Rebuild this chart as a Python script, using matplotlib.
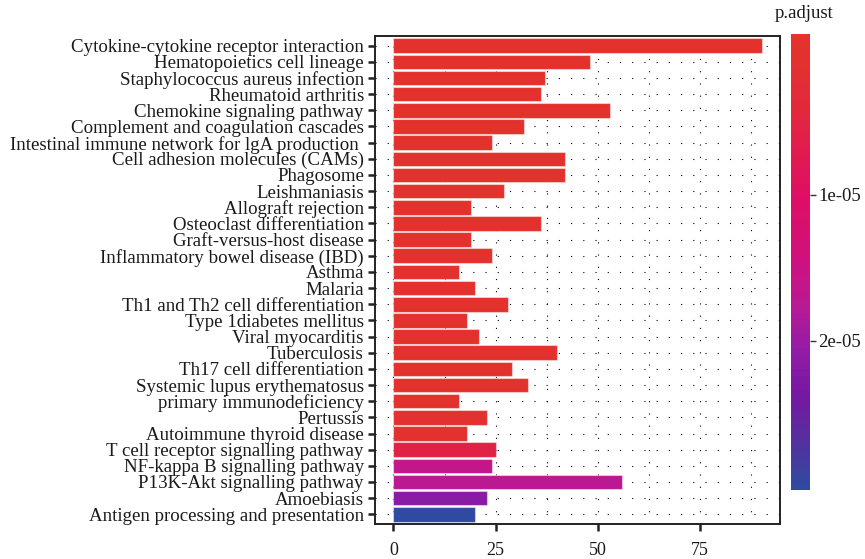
import matplotlib
matplotlib.use("Agg")
import matplotlib.pyplot as plt
from matplotlib.colors import LinearSegmentedColormap, Normalize
from matplotlib.cm import ScalarMappable

pathways = [
    "Cytokine-cytokine receptor interaction",
    "Hematopoietics cell lineage",
    "Staphylococcus aureus infection",
    "Rheumatoid arthritis",
    "Chemokine signaling pathway",
    "Complement and coagulation cascades",
    "Intestinal immune network for lgA production ",
    "Cell adhesion molecules (CAMs)",
    "Phagosome",
    "Leishmaniasis",
    "Allograft rejection",
    "Osteoclast differentiation",
    "Graft-versus-host disease",
    "Inflammatory bowel disease (IBD)",
    "Asthma",
    "Malaria",
    "Th1 and Th2 cell differentiation",
    "Type 1diabetes mellitus",
    "Viral myocarditis",
    "Tuberculosis",
    "Th17 cell differentiation",
    "Systemic lupus erythematosus",
    "primary immunodeficiency",
    "Pertussis",
    "Autoimmune thyroid disease",
    "T cell receptor signalling pathway",
    "NF-kappa B signalling pathway",
    "P13K-Akt signalling pathway",
    "Amoebiasis",
    "Antigen processing and presentation",
]
counts = [90, 48, 37, 36, 53, 32, 24, 42, 42, 27, 19, 36, 19, 24, 16,
          20, 28, 18, 21, 40, 29, 33, 16, 23, 18, 25, 24, 56, 23, 20]
p_adjust = [1e-12, 1e-11, 1e-10, 1e-10, 1e-10, 2e-10, 5e-10, 1e-9, 1e-9, 2e-9,
            3e-9, 5e-9, 6e-9, 8e-9, 1e-8, 2e-8, 3e-8, 5e-8, 8e-8, 1e-7,
            2e-7, 3e-7, 4e-7, 5e-7, 8e-7, 5.5e-6, 1.65e-5, 1.75e-5, 2.15e-5, 3.02e-5]

cmap = LinearSegmentedColormap.from_list("padj", [
    (0.00, "#e3342a"),
    (0.15, "#e22a3a"),
    (0.35, "#e00e64"),
    (0.49, "#d0107c"),
    (0.60, "#b81a94"),
    (0.69, "#951ca5"),
    (0.80, "#7418a2"),
    (0.90, "#55309e"),
    (1.00, "#2f4aa0"),
], N=64)
norm = Normalize(vmin=-1e-6, vmax=3.02e-5)

plt.rcParams["font.family"] = ["Liberation Serif", "DejaVu Serif"]
fs = 13.6

fig = plt.figure(figsize=(8.65, 5.59), dpi=100)
ax = fig.add_axes([0.4335, 0.0626, 0.4682, 0.873])

ypos = list(range(len(pathways)))
ax.barh(ypos, counts, height=0.9, color=[cmap(norm(p)) for p in p_adjust],
        edgecolor=(1, 1, 1, 0.45), linewidth=0.8, zorder=2)

ax.set_yticks(ypos)
ax.set_yticklabels(pathways, fontsize=fs, color="#1a1a1a")
ax.set_ylim(len(pathways) - 0.4, -0.6)

xmax = max(counts)
ax.set_xlim(-0.05 * xmax, 1.05 * xmax)
ax.set_xticks([0, 25, 50, 75])
ax.set_xticks([12.5, 37.5, 62.5, 87.5], minor=True)
ax.tick_params(axis="x", which="minor", length=0)
ax.tick_params(axis="both", which="major", length=5, width=1.8, color="#222222",
               labelsize=13, labelcolor="#1a1a1a")
ax.tick_params(axis="y", labelsize=fs, pad=3)
ax.tick_params(axis="x", pad=8)

ax.grid(True, which="both", axis="x", color="black", linestyle=(0, (1, 10)), linewidth=0.8, zorder=0)
ax.grid(True, which="major", axis="y", color="black", linestyle=(0, (1, 10)), linewidth=0.8, zorder=0)
ax.set_axisbelow(True)
for s in ax.spines.values():
    s.set_linewidth(1.4)
    s.set_color("#222222")

cax = fig.add_axes([0.9145, 0.1234, 0.022, 0.8157])
cb = fig.colorbar(ScalarMappable(norm=norm, cmap=cmap), cax=cax)
cb.outline.set_visible(False)
cax.invert_yaxis()
cb.set_ticks([1e-5, 2e-5])
cb.set_ticklabels(["1e-05", "2e-05"])
cax.tick_params(length=4, width=1, color="#333333", labelsize=13.5, labelcolor="#1a1a1a", pad=2)
fig.text(0.896, 0.975, "p.adjust", fontsize=13.5, color="#1a1a1a", ha="left", va="center")

fig.savefig("out.png", dpi=100)
